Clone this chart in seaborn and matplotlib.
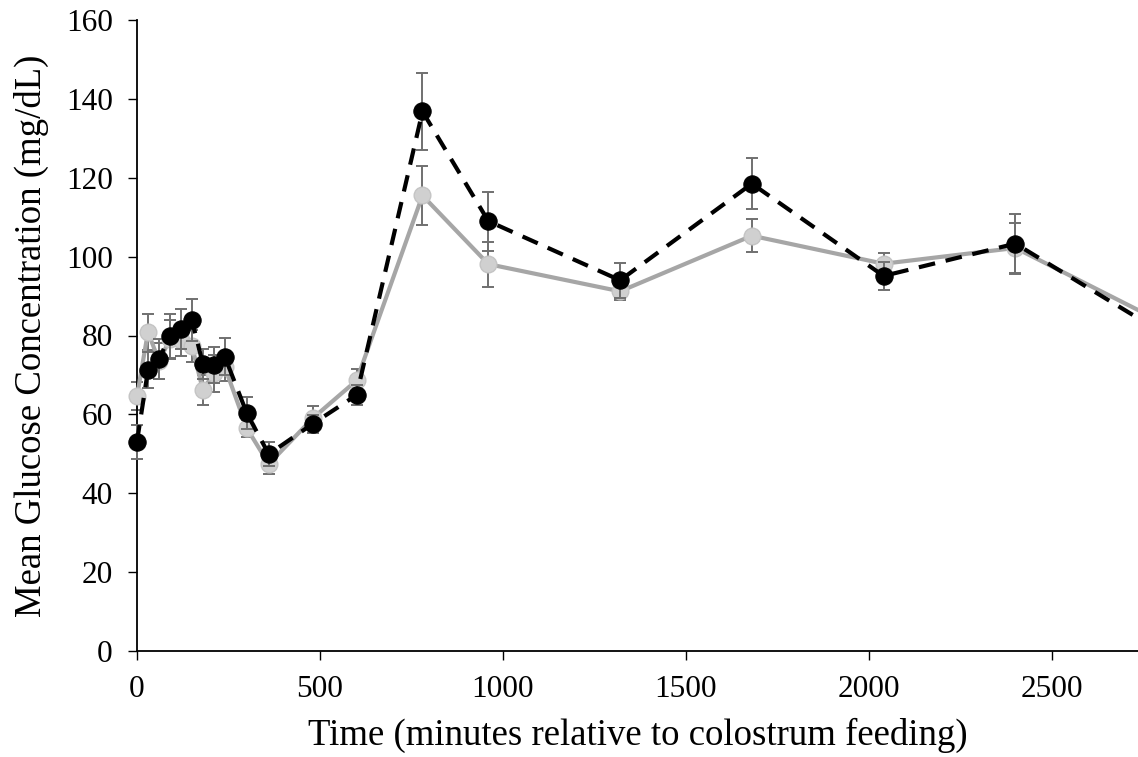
import matplotlib
matplotlib.use("Agg")
import matplotlib.pyplot as plt
import seaborn as sns
import pandas as pd

time_min = [0, 30, 60, 90, 120, 150, 180, 210, 240, 300, 360, 480, 600,
            780, 960, 1320, 1680, 2040, 2400, 2760]
black_mean = [53.1, 71.2, 74.0, 79.9, 81.6, 83.9, 72.8, 72.5, 74.6, 60.3, 49.9,
              57.6, 64.9, 136.8, 109.0, 94.0, 118.5, 95.1, 103.3, 83.0]
black_err = [4.3, 4.5, 5.0, 5.5, 5.0, 5.4, 3.8, 4.6, 4.7, 4.0, 3.0,
             2.2, 2.5, 9.8, 7.5, 4.5, 6.5, 3.5, 7.6, 3.0]
gray_mean = [64.6, 80.9, 73.5, 79.0, 78.9, 77.4, 66.2, 70.4, 72.0, 56.5, 47.4,
             59.0, 68.6, 115.5, 98.1, 91.2, 105.3, 98.2, 102.2, 85.3]
gray_err = [3.5, 4.5, 4.5, 5.0, 4.0, 4.0, 3.8, 4.7, 3.5, 2.2, 2.4,
            3.0, 3.0, 7.6, 5.7, 2.3, 4.2, 2.6, 6.4, 3.0]

x_ticks = [0, 500, 1000, 1500, 2000, 2500]
y_ticks = [0, 20, 40, 60, 80, 100, 120, 140, 160]
x_label = "Time (minutes relative to colostrum feeding)"
y_label = "Mean Glucose Concentration (mg/dL)"

sns.set_style("white")
plt.rcParams['font.family'] = ['Liberation Serif', 'DejaVu Serif']
plt.rcParams['text.color'] = 'black'
plt.rcParams['axes.labelcolor'] = 'black'
plt.rcParams['xtick.color'] = 'black'
plt.rcParams['ytick.color'] = 'black'

df_black = pd.DataFrame({"t": time_min, "v": black_mean})
df_gray = pd.DataFrame({"t": time_min, "v": gray_mean})

fig = plt.figure(figsize=(11.38, 7.57), dpi=100)
ax = fig.add_axes([137/1138, 106/757, 1 - 137/1138, 631/757])

err_col = "#707070"
ax.errorbar(time_min, gray_mean, yerr=gray_err, fmt="none", ecolor=err_col,
            elinewidth=1.4, capsize=4.5, capthick=1.4, zorder=2)
sns.lineplot(data=df_gray, x="t", y="v", ax=ax, color="#a6a6a6", linewidth=3,
             marker="o", markersize=12, markerfacecolor="#d0d0d0",
             markeredgecolor="#c4c4c4", markeredgewidth=1, zorder=3,
             errorbar=None, sort=False)
ax.errorbar(time_min, black_mean, yerr=black_err, fmt="none", ecolor=err_col,
            elinewidth=1.4, capsize=4.5, capthick=1.4, zorder=4)
sns.lineplot(data=df_black, x="t", y="v", ax=ax, color="black", linewidth=3,
             marker="o", markersize=12.5, markerfacecolor="black",
             markeredgecolor="black", dashes=False, zorder=5,
             errorbar=None, sort=False)
ax.lines[-1].set_dashes((4, 2.6))

for art in ax.lines + ax.collections:
    art.set_clip_on(False)

ax.set_xlim(0, 2735)
ax.set_ylim(0, 160)
ax.set_xticks(x_ticks)
ax.set_yticks(y_ticks)
ax.tick_params(axis="both", which="major", labelsize=22.5, direction="out",
               length=6.5, width=1.0, color="black", pad=11, left=True,
               bottom=True, labelcolor="black")
ax.set_xlabel(x_label, fontsize=26.5, labelpad=10, color="black")
ax.set_ylabel(y_label, fontsize=26.5, labelpad=12, color="black")
for s in ["top", "right"]:
    ax.spines[s].set_visible(False)
for s in ["left", "bottom"]:
    ax.spines[s].set_color("black")
    ax.spines[s].set_linewidth(1.3)
ax.grid(False)

fig.savefig("out.png", dpi=100)
